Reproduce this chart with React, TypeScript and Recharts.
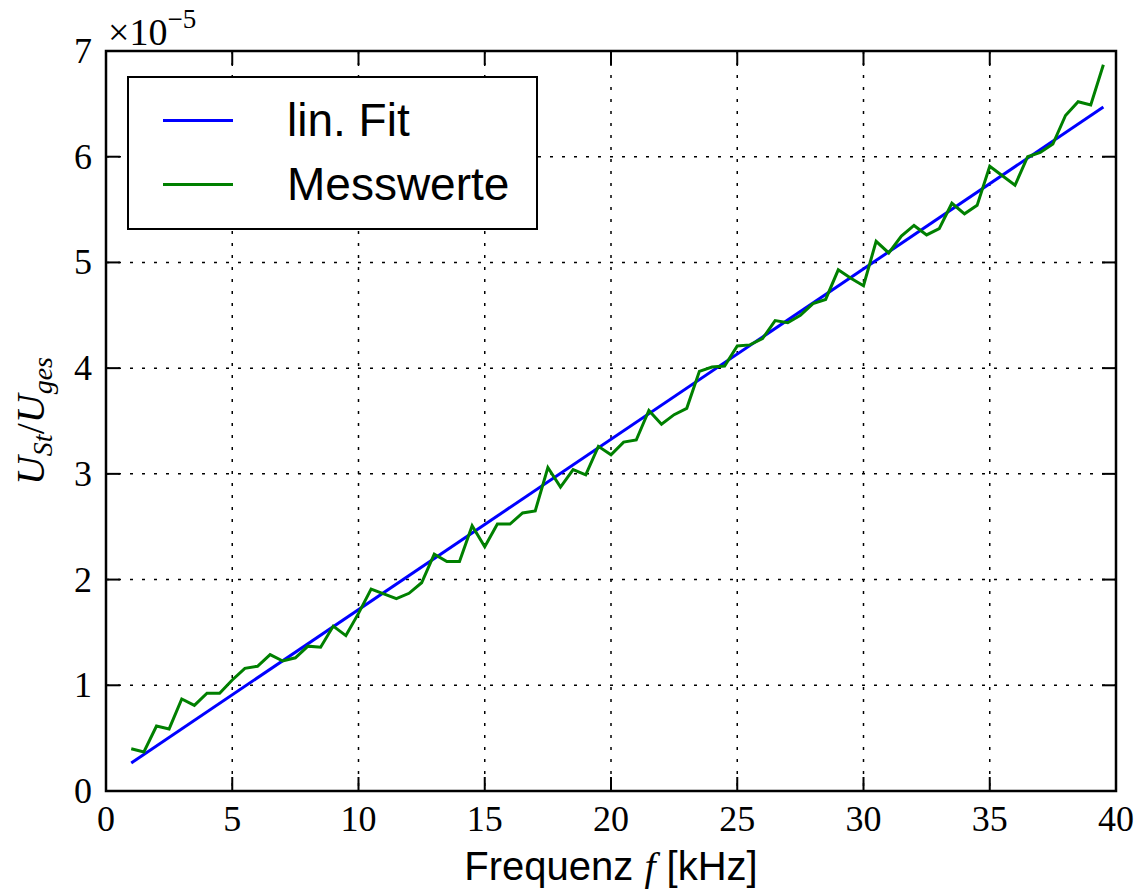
import React from "react";
import {
  LineChart,
  Line,
  XAxis,
  YAxis,
  CartesianGrid,
  ReferenceArea,
} from "recharts";

// frequency in kHz
const freqs = [
  1, 1.5, 2, 2.5, 3, 3.5, 4, 4.5, 5, 5.5, 6, 6.5, 7, 7.5, 8, 8.5, 9, 9.5, 10, 10.5,
  11, 11.5, 12, 12.5, 13, 13.5, 14, 14.5, 15, 15.5, 16, 16.5, 17, 17.5, 18, 18.5, 19, 19.5, 20, 20.5,
  21, 21.5, 22, 22.5, 23, 23.5, 24, 24.5, 25, 25.5, 26, 26.5, 27, 27.5, 28, 28.5, 29, 29.5, 30, 30.5,
  31, 31.5, 32, 32.5, 33, 33.5, 34, 34.5, 35, 35.5, 36, 36.5, 37, 37.5, 38, 38.5, 39, 39.5,
];

// U_St / U_ges in units of 1e-5
const messwerte = [
  0.4, 0.37, 0.615, 0.587, 0.87, 0.81, 0.925, 0.925, 1.05, 1.16, 1.18, 1.29, 1.23, 1.26, 1.37, 1.36, 1.56, 1.47, 1.68, 1.91,
  1.865, 1.82, 1.87, 1.97, 2.24, 2.17, 2.17, 2.51, 2.31, 2.525, 2.525, 2.63, 2.65, 3.06, 2.875, 3.04, 2.99, 3.26, 3.18, 3.3,
  3.32, 3.6, 3.47, 3.56, 3.62, 3.97, 4.01, 4.02, 4.21, 4.22, 4.28, 4.45, 4.43, 4.5, 4.61, 4.65, 4.93, 4.85, 4.78, 5.2,
  5.09, 5.25, 5.35, 5.26, 5.32, 5.56, 5.46, 5.54, 5.91, 5.82, 5.73, 6.0, 6.04, 6.12, 6.39, 6.52, 6.49, 6.87,
];

const fitFreqs = [1, 39.5];
const fitValues = [0.265, 6.47];

const xTicks = [0, 5, 10, 15, 20, 25, 30, 35, 40];
const yTicks = [0, 1, 2, 3, 4, 5, 6, 7];

const seriesNames = ["lin. Fit", "Messwerte"];
const seriesColors = ["#0000ff", "#008000"];

const measData = freqs.map((f, i) => ({ f, v: messwerte[i] }));
const fitData = fitFreqs.map((f, i) => ({ f, v: fitValues[i] }));

const W = 1130;
const H = 887;
const LEFT = 98;
const TOP = 43;
const RIGHT = 22;
const BOTTOM = 104;
const PLOT_W = W - LEFT - RIGHT;
const PLOT_H = H - TOP - BOTTOM;
const TICK_LEN = 14;
const serif = "'Liberation Serif', 'DejaVu Serif', serif";
const sans = "'Liberation Sans', Arial, sans-serif";

function XTick({ x, y, payload }: any) {
  return (
    <g>
      <line x1={x} y1={y} x2={x} y2={y - TICK_LEN} stroke="#000" strokeWidth={2} />
      <line x1={x} y1={y - PLOT_H} x2={x} y2={y - PLOT_H + TICK_LEN} stroke="#000" strokeWidth={2} />
      <text x={x} y={y + 40} textAnchor="middle" fontFamily={serif} fontSize={36} fill="#000">
        {payload.value}
      </text>
    </g>
  );
}

function YTick({ x, y, payload }: any) {
  return (
    <g>
      <line x1={x} y1={y} x2={x + TICK_LEN} y2={y} stroke="#000" strokeWidth={2} />
      <line x1={x + PLOT_W} y1={y} x2={x + PLOT_W - TICK_LEN} y2={y} stroke="#000" strokeWidth={2} />
      <text x={x - 14} y={y + 12} textAnchor="end" fontFamily={serif} fontSize={36} fill="#000">
        {payload.value}
      </text>
    </g>
  );
}

function XLabel({ viewBox }: any) {
  const cx = viewBox.x + viewBox.width / 2;
  return (
    <text x={cx} y={viewBox.y + 89} textAnchor="middle" fontFamily={sans} fontSize={40} fill="#000">
      Frequenz{" "}
      <tspan fontFamily={serif} fontStyle="italic">f</tspan> [kHz]
    </text>
  );
}

function YLabel({ viewBox }: any) {
  const cy = viewBox.y + viewBox.height / 2;
  const cx = 36;
  return (
    <text
      x={cx}
      y={cy}
      transform={`rotate(-90 ${cx} ${cy})`}
      textAnchor="middle"
      fontFamily={serif}
      fontStyle="italic"
      fontSize={40}
      fill="#000"
    >
      U
      <tspan fontSize={28} dy={8}>St</tspan>
      <tspan dy={-8} fontStyle="normal">/</tspan>U
      <tspan fontSize={28} dy={8}>ges</tspan>
    </text>
  );
}

export default function App() {
  return (
    <div style={{ position: "relative", width: W, height: H, background: "#fff" }}>
      <LineChart
        width={W}
        height={H}
        margin={{ top: TOP, right: RIGHT, left: 0, bottom: 0 }}
      >
        <CartesianGrid stroke="#000" strokeWidth={1.5} strokeDasharray="3 9" />
        <XAxis
          dataKey="f"
          type="number"
          domain={[0, 40]}
          ticks={xTicks}
          height={BOTTOM}
          tickSize={0}
          tickMargin={0}
          tickLine={false}
          axisLine={false}
          tick={<XTick />}
          interval={0}
          allowDuplicatedCategory={false}
          label={<XLabel />}
        />
        <YAxis
          type="number"
          domain={[0, 7]}
          ticks={yTicks}
          width={LEFT}
          tickSize={0}
          tickMargin={0}
          tickLine={false}
          axisLine={false}
          tick={<YTick />}
          interval={0}
          label={<YLabel />}
        />
        <Line
          data={fitData}
          dataKey="v"
          name={seriesNames[0]}
          stroke={seriesColors[0]}
          strokeWidth={3}
          dot={false}
          isAnimationActive={false}
        />
        <Line
          data={measData}
          dataKey="v"
          name={seriesNames[1]}
          stroke={seriesColors[1]}
          strokeWidth={3}
          dot={false}
          isAnimationActive={false}
        />
        <ReferenceArea
          x1={0}
          x2={40}
          y1={0}
          y2={7}
          fill="none"
          stroke="#000"
          strokeWidth={2.5}
          ifOverflow="visible"
        />
      </LineChart>

      <svg
        width={160}
        height={50}
        style={{ position: "absolute", left: 96, top: -6, overflow: "visible" }}
      >
        <text x={4} y={43} fontFamily={serif} fontSize={38} fill="#000">
          ×10
          <tspan fontSize={27} dy={-17}>−5</tspan>
        </text>
      </svg>

      <div
        style={{
          position: "absolute",
          left: 119,
          top: 68,
          width: 411,
          height: 154,
          boxSizing: "border-box",
          border: "2.5px solid #000",
          background: "#fff",
          fontFamily: sans,
          fontSize: 46,
          color: "#000",
        }}
      >
        {seriesNames.map((name, i) => (
          <div
            key={name}
            style={{ position: "absolute", left: 34, top: 14 + i * 64, height: 56, display: "flex", alignItems: "center" }}
          >
            <span style={{ display: "inline-block", width: 70, height: 3, background: seriesColors[i] }} />
            <span style={{ marginLeft: 54, lineHeight: "56px" }}>{name}</span>
          </div>
        ))}
      </div>
    </div>
  );
}
